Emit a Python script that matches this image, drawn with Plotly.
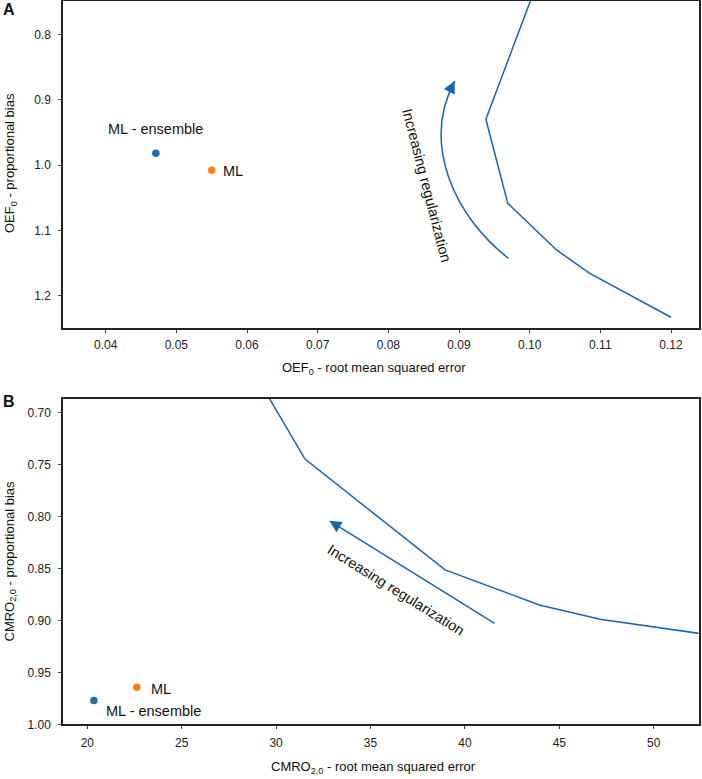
import plotly.graph_objects as go

# ==============================
# Data
# ==============================
# Panel A: OEF0
oef_rmse_curve = [0.1018, 0.0938, 0.0969, 0.1038, 0.1085, 0.1200]
oef_bias_curve = [0.700, 0.930, 1.0586, 1.130, 1.1657, 1.233]
oef_ml_ens = (0.0471, 0.982)
oef_ml = (0.0550, 1.008)

# Panel B: CMRO2,0
cmro_rmse_curve = [28.47, 31.53, 38.95, 43.94, 47.16, 55.0]
cmro_bias_curve = [0.650, 0.7446, 0.8514, 0.8851, 0.8989, 0.9192]
cmro_ml_ens = (20.35, 0.977)
cmro_ml = (22.62, 0.9644)

# "Increasing regularization" arrows (start, control points, tip)
arc_a = [(0.0970, 1.1428), (0.0892, 1.0774), (0.0847, 0.9657), (0.0894, 0.8715)]
arc_a_head_from = (0.0885, 0.8903)
arrow_b = [(41.65, 0.9037), (32.82, 0.804)]

BLUE = '#1f6db2'
ORANGE = '#ff7f0e'
LINE_BLUE = '#1766ad'
FONT = 'Liberation Sans, Arial, sans-serif'

fig = go.Figure()

# ==============================
# Panel A traces
# ==============================
fig.add_trace(go.Scatter(
    x=oef_rmse_curve, y=oef_bias_curve, mode='lines',
    line=dict(color=LINE_BLUE, width=1.5), xaxis='x', yaxis='y',
    showlegend=False, hoverinfo='skip'
))
fig.add_trace(go.Scatter(
    x=[oef_ml_ens[0]], y=[oef_ml_ens[1]], mode='markers',
    marker=dict(color=BLUE, size=7.5), xaxis='x', yaxis='y', showlegend=False
))
fig.add_trace(go.Scatter(
    x=[oef_ml[0]], y=[oef_ml[1]], mode='markers',
    marker=dict(color=ORANGE, size=7.5), xaxis='x', yaxis='y', showlegend=False
))

# ==============================
# Panel B traces
# ==============================
fig.add_trace(go.Scatter(
    x=cmro_rmse_curve, y=cmro_bias_curve, mode='lines',
    line=dict(color=LINE_BLUE, width=1.5), xaxis='x2', yaxis='y2',
    showlegend=False, hoverinfo='skip'
))
fig.add_trace(go.Scatter(
    x=[cmro_ml_ens[0]], y=[cmro_ml_ens[1]], mode='markers',
    marker=dict(color=BLUE, size=7.5), xaxis='x2', yaxis='y2', showlegend=False
))
fig.add_trace(go.Scatter(
    x=[cmro_ml[0]], y=[cmro_ml[1]], mode='markers',
    marker=dict(color=ORANGE, size=7.5), xaxis='x2', yaxis='y2', showlegend=False
))

# curved arrow shaft in panel A
p0, c1, c2, p3 = arc_a
fig.add_shape(
    type='path', xref='x', yref='y',
    path=f'M {p0[0]},{p0[1]} C {c1[0]},{c1[1]} {c2[0]},{c2[1]} {p3[0]},{p3[1]}',
    line=dict(color=LINE_BLUE, width=1.5)
)

txt = dict(family=FONT, size=14.5, color='#111')
title_font = dict(family=FONT, size=13, color='#111')
letter_font = dict(family=FONT, size=16, color='#111')
mid = dict(xanchor='center', yanchor='middle', showarrow=False)

annotations = [
    # arrow heads
    dict(x=p3[0], y=p3[1], ax=arc_a_head_from[0], ay=arc_a_head_from[1],
         xref='x', yref='y', axref='x', ayref='y', text='', showarrow=True,
         arrowhead=2, arrowsize=1.6, arrowwidth=1.5, arrowcolor=LINE_BLUE),
    dict(x=arrow_b[1][0], y=arrow_b[1][1], ax=arrow_b[0][0], ay=arrow_b[0][1],
         xref='x2', yref='y2', axref='x2', ayref='y2', text='', showarrow=True,
         arrowhead=2, arrowsize=1.6, arrowwidth=1.5, arrowcolor=LINE_BLUE),
    # rotated labels
    dict(x=0.0855, y=1.0314, xref='x', yref='y', text='Increasing regularization',
         textangle=75.5, font=txt, **mid),
    dict(x=36.35, y=0.8707, xref='x2', yref='y2', text='Increasing regularization',
         textangle=32, font=txt, **mid),
    # point labels
    dict(x=oef_ml_ens[0], y=oef_ml_ens[1], xref='x', yref='y', text='ML - ensemble',
         showarrow=False, xanchor='center', yanchor='middle', yshift=24, font=txt),
    dict(x=oef_ml[0], y=oef_ml[1], xref='x', yref='y', text='ML',
         showarrow=False, xanchor='left', yanchor='middle', xshift=9, yshift=-1, font=txt),
    dict(x=cmro_ml[0], y=cmro_ml[1], xref='x2', yref='y2', text='ML',
         showarrow=False, xanchor='left', yanchor='middle', xshift=12, yshift=-2, font=txt),
    dict(x=cmro_ml_ens[0], y=cmro_ml_ens[1], xref='x2', yref='y2', text='ML - ensemble',
         showarrow=False, xanchor='left', yanchor='middle', xshift=10, yshift=-11, font=txt),
    # panel letters
    dict(x=9 / 702, y=1 - 10 / 779, xref='paper', yref='paper', text='<b>A</b>',
         font=letter_font, **mid),
    dict(x=9 / 702, y=1 - 401 / 779, xref='paper', yref='paper', text='<b>B</b>',
         font=letter_font, **mid),
    # axis titles
    dict(x=374 / 702, y=1 - 369 / 779, xref='paper', yref='paper',
         text='OEF<sub>0</sub> - root mean squared error', font=title_font, **mid),
    dict(x=373 / 702, y=1 - 767 / 779, xref='paper', yref='paper',
         text='CMRO<sub>2,0</sub> - root mean squared error', font=title_font, **mid),
    dict(x=10 / 702, y=1 - 163 / 779, xref='paper', yref='paper',
         text='OEF<sub>0</sub> - proportional bias', textangle=-90, font=title_font, **mid),
    dict(x=10 / 702, y=1 - 561.5 / 779, xref='paper', yref='paper',
         text='CMRO<sub>2,0</sub> - proportional bias', textangle=-90, font=title_font, **mid),
]

axis_style = dict(
    showline=True, linecolor='#222', linewidth=1.5, mirror=True,
    ticks='outside', ticklen=3, tickwidth=1, tickcolor='#444',
    showgrid=False, zeroline=False, automargin=False,
    tickfont=dict(family=FONT, size=12, color='#222')
)

fig.update_layout(
    width=702, height=779, autosize=False,
    margin=dict(l=0, r=0, t=0, b=0, pad=0),
    paper_bgcolor='white', plot_bgcolor='white',
    showlegend=False,
    font=dict(family=FONT),
    xaxis=dict(domain=[63 / 702, 698.5 / 702], range=[0.03396, 0.12389],
               tickvals=[0.04, 0.05, 0.06, 0.07, 0.08, 0.09, 0.10, 0.11, 0.12],
               ticktext=['0.04', '0.05', '0.06', '0.07', '0.08', '0.09', '0.10', '0.11', '0.12'],
               anchor='y', ticklabelstandoff=2, **axis_style),
    yaxis=dict(domain=[1 - 328 / 779, 1 - 1 / 779], range=[1.2494, 0.749],
               tickvals=[0.8, 0.9, 1.0, 1.1, 1.2],
               ticktext=['0.8', '0.9', '1.0', '1.1', '1.2'],
               anchor='x', ticklabelstandoff=5, **axis_style),
    xaxis2=dict(domain=[63 / 702, 698.5 / 702], range=[18.713, 52.37],
                tickvals=[20, 25, 30, 35, 40, 45, 50],
                anchor='y2', ticklabelstandoff=4, **axis_style),
    yaxis2=dict(domain=[1 - 724.3 / 779, 1 - 399 / 779], range=[1.0, 0.6868],
                tickvals=[0.70, 0.75, 0.80, 0.85, 0.90, 0.95, 1.00],
                ticktext=['0.70', '0.75', '0.80', '0.85', '0.90', '0.95', '1.00'],
                anchor='x2', ticklabelstandoff=5, **axis_style),
    annotations=annotations,
)

# page body margin would otherwise shift the 702x779 figure
fig.write_html("out.html", config={'displayModeBar': False},
               post_script="document.body.style.margin='0';")
